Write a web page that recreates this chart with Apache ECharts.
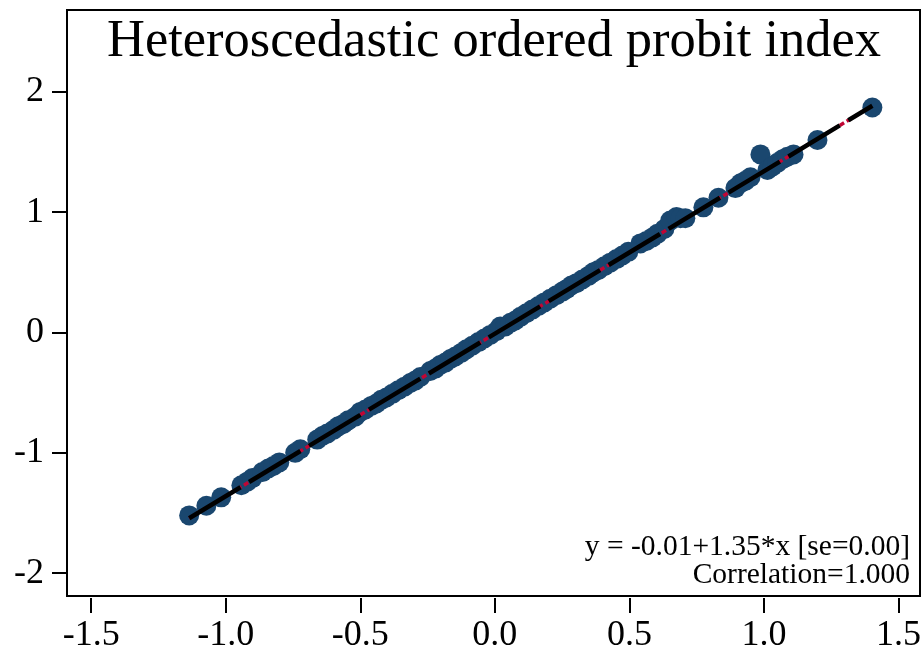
<!DOCTYPE html>
<html>
<head>
<meta charset="utf-8">
<script src="https://cdn.jsdelivr.net/npm/echarts@6/dist/echarts.min.js"></script>
<style>
  html, body { margin: 0; padding: 0; background: #ffffff; }
  #chart { width: 924px; height: 664px; }
</style>
</head>
<body>
<div id="chart"></div>
<script>
// Index from the heteroscedastic model (y) against the comparison index (x)
const indexX = [
  -1.136, -1.072, -1.017, -0.942, -0.920, -0.901, -0.864, -0.842, -0.823, -0.801,
  -0.742, -0.723, -0.660, -0.641, -0.623, -0.600, -0.582, -0.563, -0.545, -0.519,
  -0.500, -0.481, -0.459, -0.440, -0.422, -0.403, -0.381, -0.359, -0.336, -0.314,
  -0.296, -0.277, -0.240, -0.221, -0.203, -0.184, -0.165, -0.147, -0.125, -0.106,
  -0.084, -0.061, -0.039, -0.017, 0.006, 0.020, 0.039, 0.058, 0.076, 0.095,
  0.117, 0.139, 0.162, 0.184, 0.206, 0.229, 0.251, 0.266, 0.284, 0.303,
  0.325, 0.348, 0.366, 0.385, 0.407, 0.429, 0.452, 0.474, 0.496, 0.541,
  0.563, 0.586, 0.604, 0.630, 0.652, 0.675, 0.690, 0.708, 0.775, 0.831,
  0.894, 0.913, 0.931, 0.950, 0.987, 1.013, 1.032, 1.050, 1.069, 1.087,
  1.110, 1.199, 1.403
];
const indexY = [
  -1.52, -1.44, -1.37, -1.27, -1.24, -1.21, -1.16, -1.13, -1.11, -1.08,
  -1.00, -0.97, -0.89, -0.86, -0.84, -0.81, -0.78, -0.76, -0.73, -0.70,
  -0.66, -0.64, -0.61, -0.59, -0.56, -0.54, -0.51, -0.48, -0.45, -0.42,
  -0.40, -0.37, -0.32, -0.30, -0.27, -0.25, -0.22, -0.20, -0.17, -0.14,
  -0.11, -0.08, -0.05, -0.02, 0.01, 0.05, 0.05, 0.08, 0.10, 0.13,
  0.16, 0.19, 0.22, 0.25, 0.28, 0.31, 0.34, 0.36, 0.39, 0.41,
  0.44, 0.47, 0.50, 0.52, 0.55, 0.58, 0.61, 0.64, 0.67, 0.74,
  0.76, 0.79, 0.82, 0.86, 0.93, 0.96, 0.95, 0.95, 1.04, 1.12,
  1.20, 1.24, 1.26, 1.29, 1.48, 1.35, 1.38, 1.41, 1.44, 1.46,
  1.48, 1.60, 1.87
];

// Linear fit reported in the note
const fitIntercept = -0.01;
const fitSlope = 1.35;
const fitSe = 0.00;
const correlation = 1.000;

const xTicks = [-1.5, -1.0, -0.5, 0.0, 0.5, 1.0, 1.5];
const xTickLabels = ['-1.5', '-1.0', '-0.5', '0.0', '0.5', '1.0', '1.5'];
const yTicks = [-2, -1, 0, 1, 2];
const yTickLabels = ['-2', '-1', '0', '1', '2'];

const titleText = 'Heteroscedastic ordered probit index';
const noteLines = [
  'y = ' + fitIntercept.toFixed(2) + '+' + fitSlope.toFixed(2) + '*x [se=' + fitSe.toFixed(2) + ']',
  'Correlation=' + correlation.toFixed(3)
];

const SERIF = '"Liberation Serif", "DejaVu Serif", serif';

const points = indexX.map((x, i) => [x, indexY[i]]);
const xLo = Math.min(...indexX), xHi = Math.max(...indexX);
const fitLine = [[xLo, fitIntercept + fitSlope * xLo], [xHi, fitIntercept + fitSlope * xHi]];

const labelFor = (ticks, labels) => v => {
  const k = ticks.findIndex(t => Math.abs(t - v) < 1e-9);
  return k >= 0 ? labels[k] : '';
};

const chart = echarts.init(document.getElementById('chart'), null, { renderer: 'canvas' });
chart.setOption({
  animation: false,
  backgroundColor: '#ffffff',
  grid: {
    left: 67, right: 4, top: 10, bottom: 68,
    show: true, borderColor: '#000000', borderWidth: 2, backgroundColor: '#ffffff'
  },
  xAxis: {
    type: 'value',
    min: -1.59, max: 1.58,
    position: 'bottom',
    offset: 2,
    axisLine: { show: false, onZero: false },
    splitLine: { show: false },
    axisTick: { show: true, length: 15, lineStyle: { color: '#000000', width: 2 }, customValues: xTicks },
    axisLabel: {
      customValues: xTicks,
      formatter: labelFor(xTicks, xTickLabels),
      fontFamily: SERIF, fontSize: 36, color: '#000000', margin: 20
    }
  },
  yAxis: {
    type: 'value',
    min: -2.19, max: 2.68,
    position: 'left',
    axisLine: { show: false, onZero: false },
    splitLine: { show: false },
    axisTick: { show: true, length: 15, lineStyle: { color: '#000000', width: 2 }, customValues: yTicks },
    axisLabel: {
      customValues: yTicks,
      formatter: labelFor(yTicks, yTickLabels),
      fontFamily: SERIF, fontSize: 36, color: '#000000', margin: 23
    }
  },
  graphic: [
    {
      type: 'text', z: 100,
      style: {
        x: 494, y: 16, text: titleText,
        align: 'center', verticalAlign: 'top',
        fontFamily: SERIF, fontSize: 52.5, fill: '#000000'
      }
    },
    {
      type: 'text', z: 100,
      style: {
        x: 910, y: 532, text: noteLines[0],
        align: 'right', verticalAlign: 'top',
        fontFamily: SERIF, fontSize: 29.5, fill: '#000000'
      }
    },
    {
      type: 'text', z: 100,
      style: {
        x: 910, y: 560, text: noteLines[1],
        align: 'right', verticalAlign: 'top',
        fontFamily: SERIF, fontSize: 29.5, fill: '#000000'
      }
    }
  ],
  series: [
    {
      type: 'scatter',
      data: points,
      symbol: 'circle',
      symbolSize: 20,
      itemStyle: { color: '#1a476f', opacity: 1 },
      z: 2
    },
    {
      type: 'line',
      data: fitLine,
      symbol: 'none',
      lineStyle: { color: '#c10534', width: 3.5, type: [5, 3] },
      z: 3
    },
    {
      type: 'line',
      data: fitLine,
      symbol: 'none',
      lineStyle: { color: '#000000', width: 4.5, type: [60, 10] },
      z: 4
    }
  ]
});
</script>
</body>
</html>
